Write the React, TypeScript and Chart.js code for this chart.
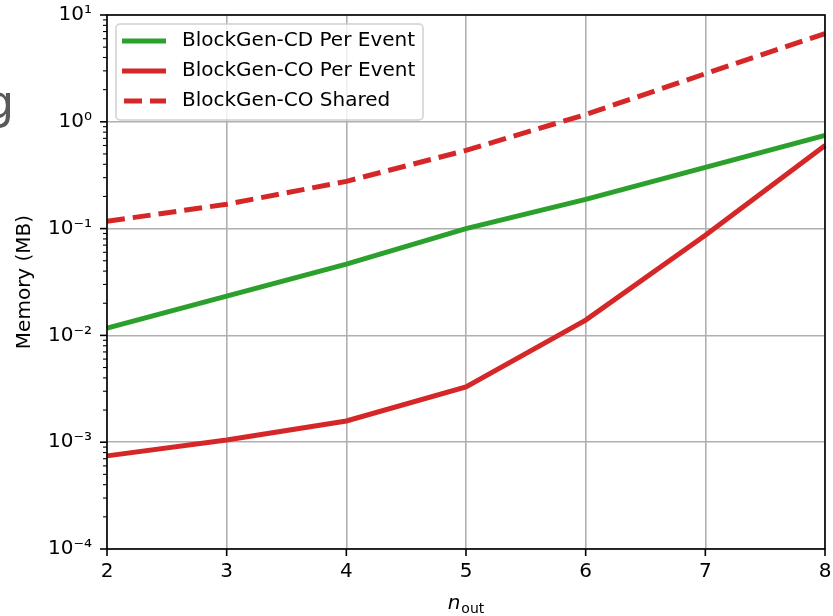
import React, { useEffect, useRef } from 'react';
import { Chart, registerables } from 'chart.js';

Chart.register(...registerables);

// ---- data ----
const nOut = ['2', '3', '4', '5', '6', '7', '8'];
const cdPerEvent = [0.0117, 0.0233, 0.0464, 0.1, 0.188, 0.374, 0.745];
const coPerEvent = [0.000745, 0.00105, 0.00158, 0.00329, 0.0139, 0.0865, 0.6];
const coShared = [0.117, 0.169, 0.277, 0.54, 1.17, 2.82, 6.7];
const seriesLabels = ['BlockGen-CD Per Event', 'BlockGen-CO Per Event', 'BlockGen-CO Shared'];
const yExponents = [-4, -3, -2, -1, 0, 1];
const yTickLabels = ['10⁻⁴', '10⁻³', '10⁻²', '10⁻¹', '10⁰', '10¹'];
const minorMantissas = [2, 3, 4, 5, 6, 7, 8, 9];
const yAxisTitle = 'Memory (MB)';
const xAxisTitleMain = 'n';
const xAxisTitleSub = 'out';

const FONT = "'DejaVu Sans', sans-serif";
const GREEN = '#2ca02c';
const RED = '#d62728';

const isMajor = (v: number) => {
  const l = Math.log10(v);
  return Math.abs(l - Math.round(l)) < 1e-6;
};

const buildYTicks = () => {
  const vals: number[] = [];
  for (const e of yExponents) {
    vals.push(Math.pow(10, e));
    if (e < yExponents[yExponents.length - 1]) {
      for (const m of minorMantissas) vals.push(m * Math.pow(10, e));
    }
  }
  return vals.sort((a, b) => a - b);
};

const decorPlugin = {
  id: 'decor',
  afterDraw(chart: any) {
    const { ctx, chartArea: a, scales } = chart;
    const ys = scales.y;
    const xs = scales.x;
    ctx.save();

    // spines
    ctx.strokeStyle = '#000';
    ctx.lineWidth = 1.6;
    ctx.strokeRect(a.left, a.top, a.right - a.left, a.bottom - a.top);

    // y tick marks
    ys.ticks.forEach((t: any) => {
      const p = ys.getPixelForValue(t.value);
      const maj = isMajor(t.value);
      ctx.lineWidth = maj ? 1.6 : 1.1;
      ctx.beginPath();
      ctx.moveTo(a.left - (maj ? 7 : 4), p);
      ctx.lineTo(a.left, p);
      ctx.stroke();
    });
    // x tick marks
    xs.ticks.forEach((_t: any, i: number) => {
      const p = xs.getPixelForTick(i);
      ctx.lineWidth = 1.6;
      ctx.beginPath();
      ctx.moveTo(p, a.bottom);
      ctx.lineTo(p, a.bottom + 7);
      ctx.stroke();
    });

    // axis titles
    ctx.fillStyle = '#000';
    ctx.font = `20px ${FONT}`;
    ctx.textAlign = 'center';
    ctx.textBaseline = 'middle';
    ctx.save();
    ctx.translate(25, (a.top + a.bottom) / 2);
    ctx.rotate(-Math.PI / 2);
    ctx.fillText(yAxisTitle, 0, 0);
    ctx.restore();

    ctx.textAlign = 'left';
    ctx.textBaseline = 'alphabetic';
    ctx.font = `italic 20px ${FONT}`;
    const wMain = ctx.measureText(xAxisTitleMain).width;
    ctx.font = `14px ${FONT}`;
    const wSub = ctx.measureText(xAxisTitleSub).width;
    const cx = (a.left + a.right) / 2;
    const x0 = cx - (wMain + wSub + 1) / 2;
    ctx.font = `italic 20px ${FONT}`;
    ctx.fillText(xAxisTitleMain, x0, 609);
    ctx.font = `14px ${FONT}`;
    ctx.fillText(xAxisTitleSub, x0 + wMain + 1, 613);

    // legend
    const lx = 116, ly = 24, lw = 307, lh = 96, r = 4;
    ctx.beginPath();
    ctx.moveTo(lx + r, ly);
    ctx.lineTo(lx + lw - r, ly);
    ctx.arcTo(lx + lw, ly, lx + lw, ly + r, r);
    ctx.lineTo(lx + lw, ly + lh - r);
    ctx.arcTo(lx + lw, ly + lh, lx + lw - r, ly + lh, r);
    ctx.lineTo(lx + r, ly + lh);
    ctx.arcTo(lx, ly + lh, lx, ly + lh - r, r);
    ctx.lineTo(lx, ly + r);
    ctx.arcTo(lx, ly, lx + r, ly, r);
    ctx.closePath();
    ctx.fillStyle = 'rgba(255,255,255,0.8)';
    ctx.fill();
    ctx.strokeStyle = '#d0d0d0';
    ctx.lineWidth = 1.5;
    ctx.stroke();

    chart.data.datasets.forEach((ds: any, i: number) => {
      const yy = 41 + i * 30;
      ctx.strokeStyle = ds.borderColor;
      ctx.lineWidth = ds.borderWidth;
      ctx.setLineDash(ds.borderDash || []);
      ctx.lineCap = 'butt';
      ctx.beginPath();
      ctx.moveTo(122 + (ds.borderDash ? 2 : 0), yy);
      ctx.lineTo(166, yy);
      ctx.stroke();
      ctx.setLineDash([]);
      ctx.fillStyle = '#000';
      ctx.font = `20px ${FONT}`;
      ctx.textAlign = 'left';
      ctx.textBaseline = 'middle';
      ctx.fillText(ds.label, 182, yy);
    });

    // clipped large glyph at left edge
    ctx.fillStyle = '#5a5a5a';
    ctx.font = `46px ${FONT}`;
    ctx.textAlign = 'left';
    ctx.textBaseline = 'alphabetic';
    ctx.fillText('g', -15, 118);

    ctx.restore();
  },
};

export default function App() {
  const ref = useRef<HTMLCanvasElement | null>(null);

  useEffect(() => {
    if (!ref.current) return;
    const yTicks = buildYTicks();
    const chart = new Chart(ref.current, {
      type: 'line',
      data: {
        labels: nOut,
        datasets: [
          {
            label: seriesLabels[0],
            data: cdPerEvent,
            borderColor: GREEN,
            backgroundColor: GREEN,
            borderWidth: 5,
            pointRadius: 0,
            tension: 0,
          },
          {
            label: seriesLabels[1],
            data: coPerEvent,
            borderColor: RED,
            backgroundColor: RED,
            borderWidth: 5,
            pointRadius: 0,
            tension: 0,
          },
          {
            label: seriesLabels[2],
            data: coShared,
            borderColor: RED,
            backgroundColor: RED,
            borderWidth: 5,
            borderDash: [18, 8],
            pointRadius: 0,
            tension: 0,
          },
        ],
      },
      options: {
        animation: false,
        responsive: false,
        maintainAspectRatio: false,
        layout: { padding: { top: 15, right: 8, left: 0, bottom: 0 } },
        plugins: {
          legend: { display: false },
          tooltip: { enabled: false },
        },
        scales: {
          x: {
            type: 'category',
            offset: false,
            grid: { color: '#b0b0b0', lineWidth: 1.6, drawTicks: false },
            border: { display: false },
            ticks: {
              color: '#000',
              font: { family: FONT, size: 20 },
              padding: 11,
              maxRotation: 0,
              autoSkip: false,
            },
            afterFit: (s: any) => {
              s.height = 67;
              s.paddingLeft = 0;
              s.paddingRight = 0;
            },
          },
          y: {
            type: 'logarithmic',
            min: 1e-4,
            max: 10,
            afterBuildTicks: (s: any) => {
              s.ticks = yTicks.map((v) => ({ value: v, major: isMajor(v) }));
            },
            grid: {
              color: (c: any) => (c.tick && isMajor(c.tick.value) ? '#b0b0b0' : 'rgba(0,0,0,0)'),
              lineWidth: 1.6,
              drawTicks: false,
            },
            border: { display: false },
            ticks: {
              color: '#000',
              font: { family: FONT, size: 20 },
              padding: 15,
              autoSkip: false,
              callback: (v: any) => {
                const val = Number(v);
                if (!isMajor(val)) return '';
                const e = Math.round(Math.log10(val));
                const idx = yExponents.indexOf(e);
                return idx >= 0 ? yTickLabels[idx] : '';
              },
            },
            afterFit: (s: any) => {
              s.width = 107;
              s.paddingTop = 0;
              s.paddingBottom = 0;
            },
          },
        },
      },
      plugins: [decorPlugin],
    } as any);
    return () => chart.destroy();
  }, []);

  return (
    <div style={{ position: 'fixed', left: 0, top: 0, width: 833, height: 616, background: '#fff' }}>
      <canvas ref={ref} width={833} height={616} style={{ display: 'block' }} />
    </div>
  );
}
